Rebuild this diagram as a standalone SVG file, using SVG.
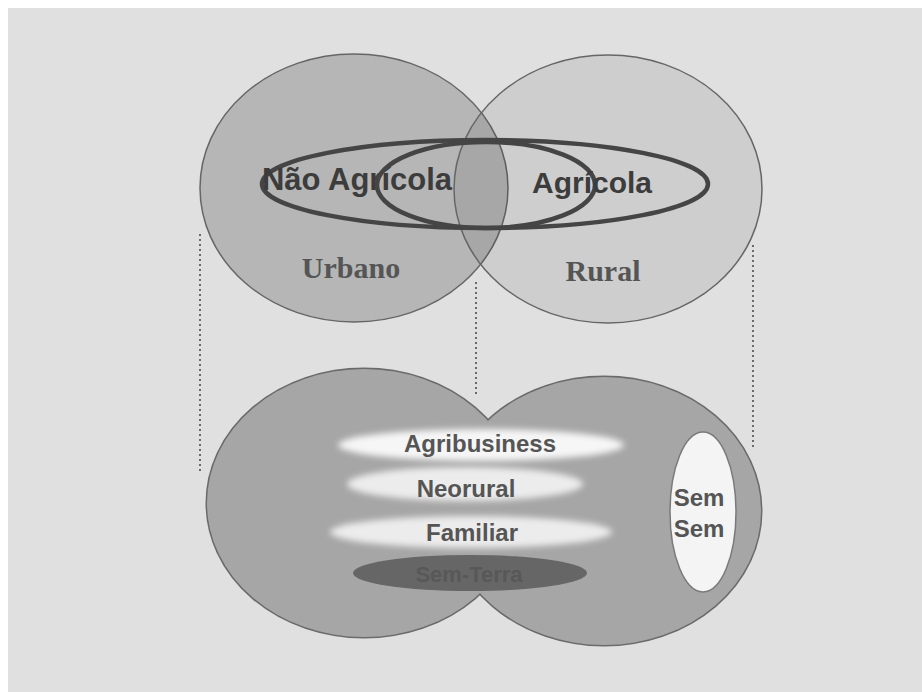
<svg xmlns="http://www.w3.org/2000/svg" width="922" height="692" viewBox="0 0 922 692">
<defs>
<style>
.circ{stroke:#666;stroke-width:1.5}
.ring{fill:none;stroke:#454545;stroke-width:4.5}
.sans{font-family:"Liberation Sans",Arial,sans-serif;font-weight:bold;text-anchor:middle}
.serif{font-family:"Liberation Serif","Times New Roman",serif;font-weight:bold;text-anchor:middle}
.dot{stroke:#6a6a6a;stroke-width:2;stroke-dasharray:2 3;fill:none}
.soft{filter:url(#blur)}
</style>
<filter id="blur" x="-20%" y="-80%" width="140%" height="260%">
<feGaussianBlur stdDeviation="3"/>
</filter>
</defs>
<rect x="0" y="0" width="922" height="692" fill="#ffffff"/>
<rect x="8" y="8" width="914" height="684" fill="#e0e0e0"/>

<g id="connectors">
<line class="dot" x1="200" y1="234" x2="200" y2="472"/>
<line class="dot" x1="476" y1="282" x2="476" y2="396"/>
<line class="dot" x1="753" y1="245" x2="753" y2="450"/>
</g>

<g id="urbano">
<ellipse class="circ" cx="354" cy="188" rx="154" ry="134" fill="#000" fill-opacity="0.19"/>
<text class="serif" x="351" y="278" font-size="30" fill="#555">Urbano</text>
</g>
<g id="rural">
<ellipse class="circ" cx="608" cy="189" rx="154" ry="134" fill="#000" fill-opacity="0.08"/>
<text class="serif" x="603" y="281" font-size="30" fill="#555">Rural</text>
</g>
<g id="nao-agricola">
<ellipse class="ring" cx="485" cy="184" rx="223" ry="44"/>
<text class="sans" x="357" y="190" font-size="31" fill="#3c3c3c">Não Agrícola</text>
</g>
<g id="agricola">
<ellipse class="ring" cx="486" cy="185" rx="109" ry="43"/>
<text class="sans" x="592" y="193" font-size="30" fill="#3c3c3c">Agrícola</text>
</g>

<g id="base">
<ellipse cx="364" cy="503" rx="157" ry="134" fill="none" stroke="#6a6a6a" stroke-width="3"/>
<ellipse cx="604" cy="511" rx="157" ry="134" fill="none" stroke="#6a6a6a" stroke-width="3"/>
<ellipse cx="364" cy="503" rx="157" ry="134" fill="#a6a6a6"/>
<ellipse cx="604" cy="511" rx="157" ry="134" fill="#a6a6a6"/>
</g>
<g id="agribusiness">
<ellipse class="soft" cx="481" cy="445" rx="143" ry="16" fill="#f6f6f6"/>
<text class="sans" x="480" y="452" font-size="24" fill="#555">Agribusiness</text>
</g>
<g id="neorural">
<ellipse class="soft" cx="465" cy="484" rx="118" ry="17" fill="#ececec"/>
<text class="sans" x="466" y="497" font-size="24" fill="#555">Neorural</text>
</g>
<g id="familiar">
<ellipse class="soft" cx="471" cy="532" rx="141" ry="16" fill="#ececec"/>
<text class="sans" x="472" y="541" font-size="24" fill="#555">Familiar</text>
</g>
<g id="sem-terra">
<ellipse cx="470" cy="573" rx="117" ry="18" fill="#666"/>
<text class="sans" x="469" y="582" font-size="22" fill="#585858">Sem-Terra</text>
</g>
<g id="sem-sem">
<ellipse cx="703" cy="512" rx="33" ry="80" fill="#f4f4f4" stroke="#7a7a7a" stroke-width="1.5"/>
<text class="sans" x="699" y="506" font-size="24" fill="#555">Sem</text>
<text class="sans" x="699" y="537" font-size="24" fill="#555">Sem</text>
</g>
</svg>
